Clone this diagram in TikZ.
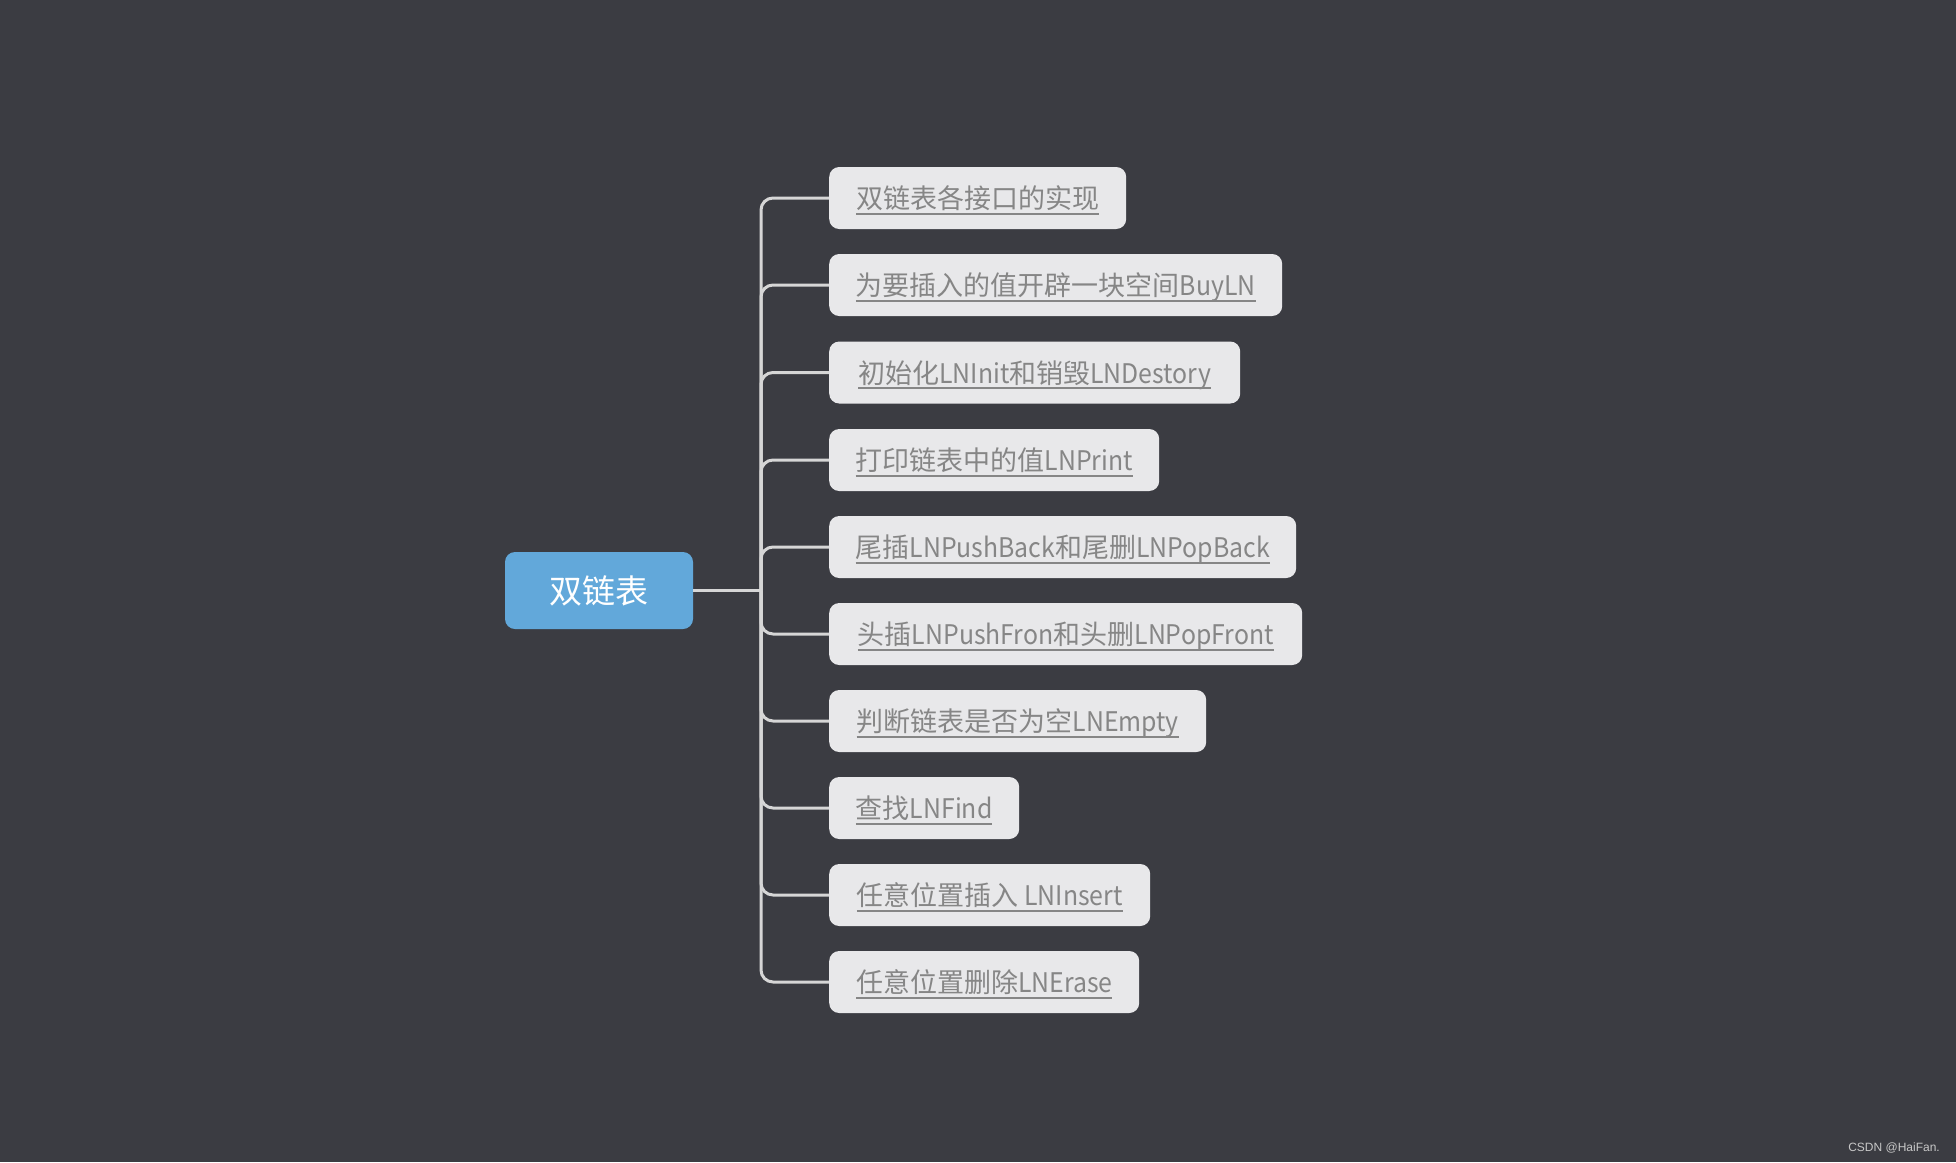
\documentclass[tikz,border=0pt]{standalone}
\usepackage{fontspec}
\setmainfont{Noto Sans CJK SC}
\newfontfamily\latf[FakeStretch=0.92]{Noto Sans CJK SC}
\newfontfamily\wmfont{Liberation Sans}
\definecolor{bgc}{HTML}{3B3C42}
\definecolor{boxc}{HTML}{E8E8EA}
\definecolor{txtc}{HTML}{868686}
\definecolor{linec}{HTML}{D6D6D6}
\definecolor{rootc}{HTML}{62A8DA}
\definecolor{wmc}{HTML}{C8C8C8}
\newcommand\ulx[1]{\setbox0\hbox{#1}\rlap{\smash{\color{txtc}\rule[-6pt]{\wd0}{2pt}}}\box0}
\newcommand\lat[1]{{\latf #1}}
\begin{document}
\begin{tikzpicture}[x=1pt,y=-1pt,
  childbox/.style={fill=boxc, rounded corners=10pt, minimum height=62pt, anchor=west,
    inner sep=0pt, text=txtc, font=\fontsize{27}{31}\selectfont, text height=21pt, text depth=0pt},
  rootbox/.style={fill=rootc, rounded corners=10pt, minimum width=188pt, minimum height=77pt,
    inner sep=0pt, text=white, font=\fontsize{33}{37}\selectfont, text height=25pt, text depth=0pt},
  conn/.style={draw=linec, line width=3pt, rounded corners=12pt}]
\fill[bgc] (0,0) rectangle (1956,1162);
\useasboundingbox (0,0) rectangle (1956,1162);
\node[rootbox] (root) at (599,590.5) {双链表};
\coordinate (hub) at (761,590.5);
\node[childbox, minimum width=297pt] (c1) at (829,198) {\ulx{双链表各接口的实现}};
\node[childbox, minimum width=453pt] (c2) at (829,285) {\ulx{为要插入的值开辟一块空间\lat{BuyLN}}};
\node[childbox, minimum width=411pt] (c3) at (829,372.5) {\ulx{初始化\lat{LNInit}和销毁\lat{LNDestory}}};
\node[childbox, minimum width=330pt] (c4) at (829,460) {\ulx{打印链表中的值\lat{LNPrint}}};
\node[childbox, minimum width=467pt] (c5) at (829,547) {\ulx{尾插\lat{LNPushBack}和尾删\lat{LNPopBack}}};
\node[childbox, minimum width=473pt] (c6) at (829,634) {\ulx{头插\lat{LNPushFron}和头删\lat{LNPopFront}}};
\node[childbox, minimum width=377pt] (c7) at (829,721) {\ulx{判断链表是否为空\lat{LNEmpty}}};
\node[childbox, minimum width=190pt] (c8) at (829,808) {\ulx{查找\lat{LNFind}}};
\node[childbox, minimum width=321pt] (c9) at (829,895) {\ulx{任意位置插入\lat{ LNInsert}}};
\node[childbox, minimum width=310pt] (c10) at (829,982) {\ulx{任意位置删除\lat{LNErase}}};
\draw[conn] (root.east) -- (hub);
\foreach \c in {c1,c2,c3,c4,c5,c6,c7,c8,c9,c10}{
  \draw[conn] (hub) |- (\c.west);
}
\node[anchor=east, text=wmc, font=\wmfont\fontsize{12}{14}\selectfont, inner sep=0pt] (wm) at (1940,1148) {CSDN @HaiFan.};
\end{tikzpicture}
\end{document}
